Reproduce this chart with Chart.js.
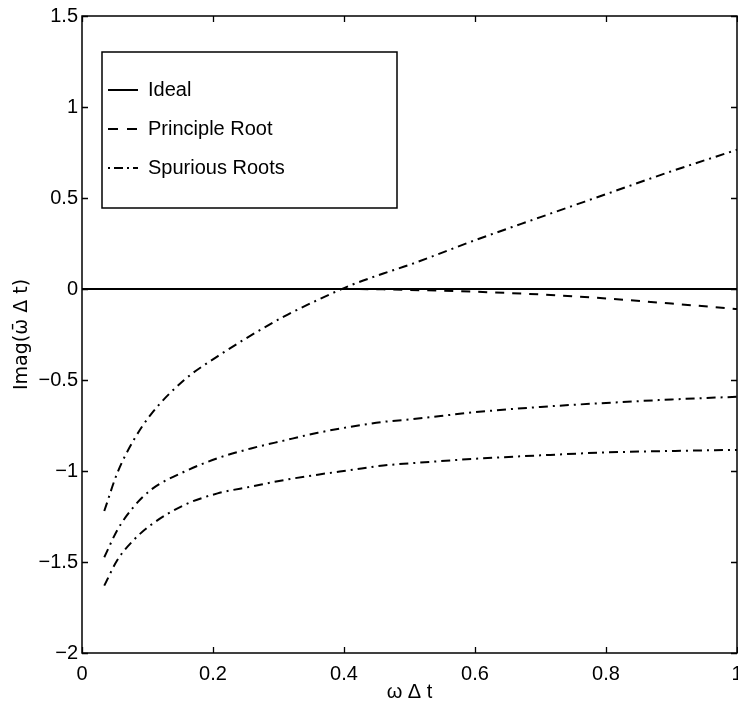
<!DOCTYPE html>
<html>
<head>
<meta charset="utf-8">
<title>Imag(ω̄ Δt) vs ω Δt</title>
<script src="https://cdn.jsdelivr.net/npm/chart.js@4/dist/chart.umd.min.js"></script>
<style>
  html, body { margin: 0; padding: 0; background: #fff; overflow: hidden; }
  canvas { display: block; }
</style>
</head>
<body>
<canvas id="chart" width="750" height="715"></canvas>
<script>
// Normalised frequency ω Δt at which the roots were evaluated
const omegaDt = [0.034, 0.054, 0.079, 0.105, 0.156, 0.207, 0.258, 0.308, 0.36, 0.41, 0.46, 0.5, 0.6, 0.7, 0.8, 0.9, 1.0];

// Exact (ideal) response: no damping
const idealX = [0, 1];
const idealY = [0, 0];

// Principal root of the scheme
const principalRoot = [0, 0, 0, 0, 0, 0, 0, 0, 0, 0, -0.002, -0.005, -0.015, -0.03, -0.052, -0.08, -0.11];

// Spurious roots (three branches)
const spuriousUpper = [-1.22, -1.01, -0.83, -0.69, -0.5, -0.37, -0.255, -0.152, -0.06, 0.02, 0.085, 0.133, 0.268, 0.395, 0.521, 0.647, 0.765];
const spuriousMiddle = [-1.474, -1.324, -1.196, -1.104, -1.004, -0.93, -0.876, -0.833, -0.79, -0.757, -0.73, -0.717, -0.677, -0.648, -0.626, -0.607, -0.592];
const spuriousLower = [-1.63, -1.489, -1.379, -1.297, -1.187, -1.123, -1.086, -1.05, -1.02, -0.995, -0.97, -0.958, -0.933, -0.914, -0.898, -0.89, -0.884];

// Axis ticks
const xTicks = [0, 0.2, 0.4, 0.6, 0.8, 1];
const yTicks = [-2, -1.5, -1, -0.5, 0, 0.5, 1, 1.5];

// Legend entries
const legendLabels = ['Ideal', 'Principle Root', 'Spurious Roots'];

const FONT = '"Liberation Sans", Arial, Helvetica, sans-serif';
const DASHED = [9, 8];
const DASH_DOT = [9, 5, 2, 5];

const pts = (xs, ys) => xs.map((x, i) => ({ x, y: ys[i] }));

const lineStyle = (dash) => ({
  borderColor: '#000',
  borderWidth: 2,
  borderDash: dash,
  pointRadius: 0,
  fill: false,
  cubicInterpolationMode: 'monotone'
});

const datasets = [
  { label: legendLabels[0], data: pts(idealX, idealY), ...lineStyle([]) },
  { label: legendLabels[1], data: pts(omegaDt, principalRoot), ...lineStyle(DASHED) },
  { label: legendLabels[2], data: pts(omegaDt, spuriousUpper), ...lineStyle(DASH_DOT) },
  { label: legendLabels[2], data: pts(omegaDt, spuriousMiddle), ...lineStyle(DASH_DOT) },
  { label: legendLabels[2], data: pts(omegaDt, spuriousLower), ...lineStyle(DASH_DOT) }
];

// Box around the plot with inward tick marks on all four sides
const framePlugin = {
  id: 'frame',
  afterDatasetsDraw(chart) {
    const { ctx, chartArea: a, scales: { x, y } } = chart;
    ctx.save();
    ctx.strokeStyle = '#000';
    ctx.lineWidth = 1.5;
    ctx.setLineDash([]);
    ctx.strokeRect(a.left, a.top, a.right - a.left, a.bottom - a.top);
    ctx.lineWidth = 1.3;
    ctx.beginPath();
    const len = 6;
    x.ticks.forEach(t => {
      const px = Math.round(x.getPixelForValue(t.value)) + 0.5;
      ctx.moveTo(px, a.bottom); ctx.lineTo(px, a.bottom - len);
      ctx.moveTo(px, a.top); ctx.lineTo(px, a.top + len);
    });
    y.ticks.forEach(t => {
      const py = Math.round(y.getPixelForValue(t.value)) + 0.5;
      ctx.moveTo(a.left, py); ctx.lineTo(a.left + len, py);
      ctx.moveTo(a.right, py); ctx.lineTo(a.right - len, py);
    });
    ctx.stroke();
    ctx.restore();
  }
};

// Boxed legend in the upper-left corner of the plot
const boxLegendPlugin = {
  id: 'boxLegend',
  afterDraw(chart) {
    const { ctx, chartArea: a } = chart;
    const left = a.left + 20, top = a.top + 36, w = 295, h = 156;
    const rows = [
      { text: legendLabels[0], dash: [], },
      { text: legendLabels[1], dash: [10, 9] },
      { text: legendLabels[2], dash: [2, 4, 9, 4] }
    ];
    ctx.save();
    ctx.fillStyle = '#fff';
    ctx.fillRect(left, top, w, h);
    ctx.strokeStyle = '#000';
    ctx.lineWidth = 1.5;
    ctx.setLineDash([]);
    ctx.strokeRect(left, top, w, h);
    ctx.font = '20px ' + FONT;
    ctx.fillStyle = '#000';
    ctx.textBaseline = 'middle';
    ctx.textAlign = 'left';
    rows.forEach((r, i) => {
      const cy = top + 38 + i * 39;
      ctx.beginPath();
      ctx.setLineDash(r.dash);
      ctx.lineWidth = 2;
      ctx.moveTo(left + 6, cy);
      ctx.lineTo(left + 36, cy);
      ctx.stroke();
      ctx.setLineDash([]);
      ctx.fillText(r.text, left + 46, cy);
    });
    ctx.restore();
  }
};

// Plain numbers with a true minus sign
const fmt = v => String(Number(Number(v).toFixed(2))).replace('-', '\u2212');

new Chart(document.getElementById('chart'), {
  type: 'line',
  data: { datasets },
  plugins: [framePlugin, boxLegendPlugin],
  options: {
    responsive: false,
    animation: false,
    events: [],
    layout: { padding: { left: 0, top: 16, right: 13, bottom: 0 } },
    plugins: { legend: { display: false }, tooltip: { enabled: false } },
    scales: {
      x: {
        type: 'linear',
        min: 0, max: 1,
        grid: { display: false, drawTicks: false },
        border: { display: false },
        afterBuildTicks: s => { s.ticks = xTicks.map(v => ({ value: v })); },
        ticks: { color: '#000', font: { family: FONT, size: 20 }, padding: 9, maxRotation: 0, autoSkip: false, callback: fmt },
        title: { display: true, text: 'ω Δ t', color: '#000', font: { family: FONT, size: 20 }, padding: { top: 0, bottom: 11 } },
        afterFit: s => { s.height = 62; s.paddingLeft = 0; s.paddingRight = 0; }
      },
      y: {
        type: 'linear',
        min: -2, max: 1.5,
        grid: { display: false, drawTicks: false },
        border: { display: false },
        afterBuildTicks: s => { s.ticks = yTicks.map(v => ({ value: v })); },
        ticks: { color: '#000', font: { family: FONT, size: 20 }, padding: 4, autoSkip: false, callback: fmt },
        title: { display: true, text: 'Imag(ω̄ Δ t)', color: '#000', font: { family: '"DejaVu Sans", sans-serif', size: 19 }, padding: { top: 11, bottom: 0 } },
        afterFit: s => { s.width = 82; s.paddingTop = 0; s.paddingBottom = 0; }
      }
    }
  }
});
</script>
</body>
</html>
